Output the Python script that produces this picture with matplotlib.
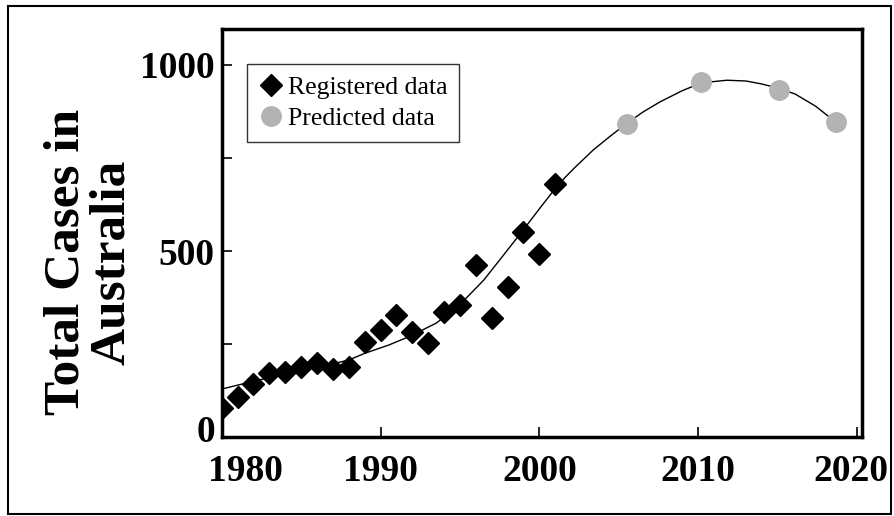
import matplotlib.pyplot as plt
from matplotlib.patches import Rectangle
from matplotlib.transforms import ScaledTranslation

plt.rcParams['font.family'] = ['Liberation Serif', 'DejaVu Serif']

# registered data
years_reg = [1980, 1981, 1982, 1983, 1984, 1985, 1986, 1987, 1988, 1989, 1990,
             1991, 1992, 1993, 1994, 1995, 1996, 1997, 1998, 1999, 2000, 2001]
cases_reg = [77, 107, 142, 173, 176, 189, 200, 182, 189, 256, 288,
             328, 283, 253, 337, 355, 462, 319, 402, 550, 491, 680]

# predicted data
years_pred = [2005.5, 2010.2, 2015.1, 2018.7]
cases_pred = [841, 953, 932, 847]

# trend curve
years_trend = [1980, 1982, 1984, 1986, 1988, 1989, 1990.5, 1991.8, 1993.5, 1994.7,
               1995.5, 1996.5, 1997.5, 1998.9, 2000.1, 2001, 2001.6, 2002.2, 2003.4,
               2004.5, 2005.5, 2006.5, 2007.6, 2009, 2010.2, 2011.8, 2013, 2014,
               2015.1, 2016.1, 2017.4, 2018.7]
cases_trend = [129, 150, 169, 187, 207, 225, 247, 270, 306, 345,
               378, 422, 476, 552, 619, 668, 697, 723, 772,
               810, 843, 873, 901, 931, 952, 959, 957, 949,
               937, 922, 889, 845]

xticks = [1980, 1990, 2000, 2010, 2020]
yticks = [0, 500, 1000]

fig = plt.figure(figsize=(8.94, 5.16), dpi=100)
ax = fig.add_axes([0.248, 0.153, 0.716, 0.791])

ax.plot(years_trend, cases_trend, color='black', lw=1, zorder=1)
ax.plot(years_reg, cases_reg, 'D', color='black', ms=11, label='Registered data', zorder=3)
ax.plot(years_pred, cases_pred, 'o', color='#b3b3b3', ms=14, label='Predicted data', zorder=3)

ax.set_xlim(1980, 2020.3)
ax.set_ylim(0, 1097)
ax.set_xticks(xticks)
ax.set_yticks(yticks)
ax.set_yticks([250, 750], minor=True)
ax.set_xticklabels([str(t) for t in xticks], fontsize=27, fontweight='bold')
ax.set_yticklabels([str(t) for t in yticks], fontsize=27, fontweight='bold')
ax.tick_params(axis='both', which='both', direction='in', length=7, width=1.2)
ax.tick_params(axis='x', pad=12)
ax.tick_params(axis='y', pad=5)
for s in ax.spines.values():
    s.set_linewidth(2.5)

# excel shifted the end labels to keep them inside
lbls = ax.get_xticklabels()
lbls[0].set_transform(lbls[0].get_transform() + ScaledTranslation(0.24, 0, fig.dpi_scale_trans))
lbls[-1].set_transform(lbls[-1].get_transform() + ScaledTranslation(-0.06, 0, fig.dpi_scale_trans))
ylb = ax.get_yticklabels()
ylb[0].set_transform(ylb[0].get_transform() + ScaledTranslation(0, 0.09, fig.dpi_scale_trans))

leg = ax.legend(loc='upper left', bbox_to_anchor=(0.039, 0.914), borderaxespad=0,
                fontsize=18.5, frameon=True, fancybox=False, handletextpad=0.15,
                handlelength=1.0, labelspacing=0.33, borderpad=0.45)
leg.get_frame().set_edgecolor('black')
leg.get_frame().set_linewidth(1)

fig.text(0.1, 0.492, 'Total Cases in\nAustralia', rotation=90, ha='center', va='center',
         multialignment='center', fontsize=37, fontweight='bold', linespacing=1.0)

fig.patches.append(Rectangle((0.009, 0.004), 0.988, 0.984, transform=fig.transFigure,
                             fill=False, edgecolor='black', lw=1.5))

fig.savefig('out.png', dpi=100)
